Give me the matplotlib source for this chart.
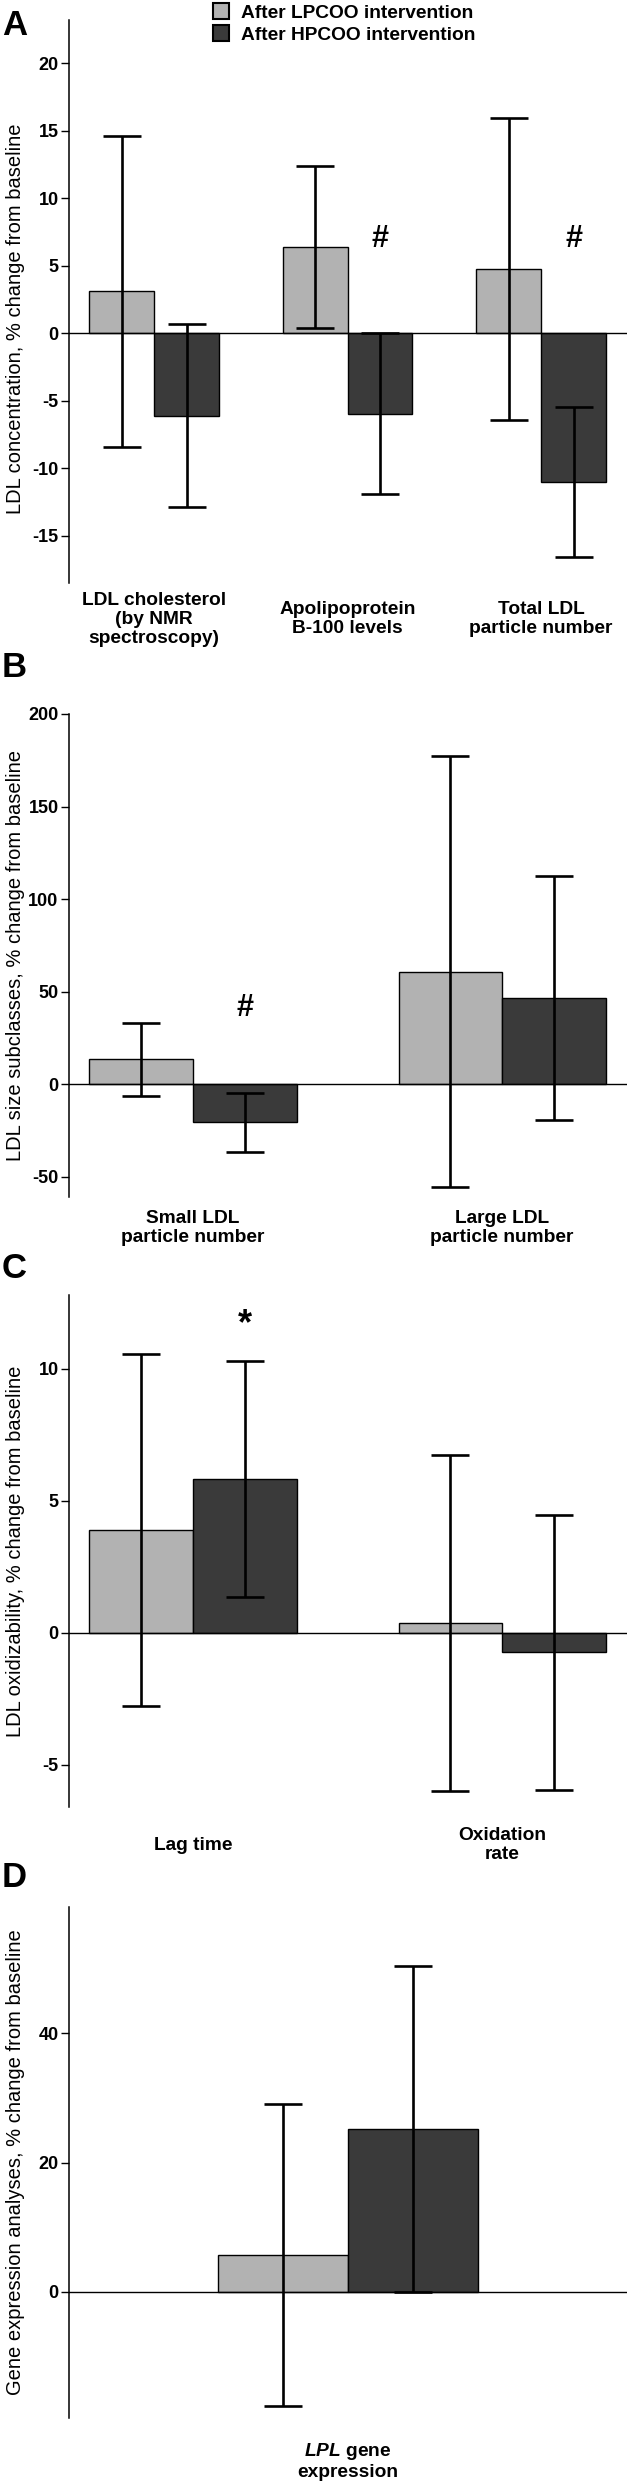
import numpy as np
import matplotlib
matplotlib.use("Agg")
import matplotlib.pyplot as plt
from matplotlib.patches import Patch

plt.rcParams['font.family'] = ['Liberation Sans', 'DejaVu Sans']
plt.rcParams['mathtext.fontset'] = 'custom'
plt.rcParams['mathtext.it'] = 'Liberation Sans:italic:bold'
plt.rcParams['mathtext.rm'] = 'Liberation Sans:bold'

# ---- data (mean % change, SD) ----
legend_labels = ['After LPCOO intervention', 'After HPCOO intervention']

cats_a = ['LDL cholesterol\n(by NMR\nspectroscopy)', 'Apolipoprotein\nB-100 levels',
          'Total LDL\nparticle number']
lp_a = [3.1, 6.4, 4.75]
lp_a_sd = [11.5, 6.0, 11.2]
hp_a = [-6.1, -5.95, -11.05]
hp_a_sd = [6.75, 5.95, 5.55]

cats_b = ['Small LDL\nparticle number', 'Large LDL\nparticle number']
lp_b = [13.5, 60.8]
lp_b_sd = [19.8, 116.4]
hp_b = [-20.5, 46.8]
hp_b_sd = [16.0, 65.9]

cats_c = ['Lag time', 'Oxidation\nrate']
lp_c = [3.9, 0.37]
lp_c_sd = [6.66, 6.37]
hp_c = [5.82, -0.74]
hp_c_sd = [4.48, 5.22]

cats_d = [r'$\mathit{LPL}$ gene' + '\nexpression']
lp_d = [5.67]
lp_d_sd = [23.4]
hp_d = [25.2]
hp_d_sd = [25.3]

# significance marks: (panel, x group, y value, text)
marks = [('A', 1, 6.4, '#'), ('A', 2, 6.4, '#'), ('B', 0, 36.9, '#'), ('C', 0, 11.3, '*')]

LIGHT = '#b2b2b2'
DARK = '#3a3a3a'
W = 0.335

W_PX, H_PX = 627, 2484
fig = plt.figure(figsize=(W_PX / 100, H_PX / 100), dpi=100)


def rect(top, bottom, left=69, right=627):
    return [left / W_PX, 1 - bottom / H_PX, (right - left) / W_PX, (bottom - top) / H_PX]


def panel(r, cats, lp, lp_sd, hp, hp_sd, ylim, xlim, yticks, ylabel, lab_off, lab_y=0.5):
    ax = fig.add_axes(r)
    x = np.arange(len(cats))
    ekw = dict(ecolor='black', elinewidth=1.9, capsize=13.5, capthick=1.9)
    ax.bar(x - W / 2, lp, W, yerr=lp_sd, color=LIGHT, edgecolor='black', linewidth=1.0,
           error_kw=ekw)
    ax.bar(x + W / 2, hp, W, yerr=hp_sd, color=DARK, edgecolor='black', linewidth=1.0,
           error_kw=ekw)
    ax.axhline(0, color='black', lw=1.0, zorder=3)
    ax.set_xlim(*xlim)
    ax.set_ylim(*ylim)
    for s in ['top', 'right', 'bottom']:
        ax.spines[s].set_visible(False)
    ax.spines['left'].set_linewidth(1.1)
    ax.set_xticks([])
    ax.set_yticks(yticks, labels=[str(t) for t in yticks], fontweight='bold', fontsize=13)
    ax.tick_params(axis='y', length=6, width=1.0, pad=1.5)
    ax.set_ylabel(ylabel, fontsize=14.5)
    ax.yaxis.set_label_coords(-0.079, lab_y)
    for xi, c in zip(x, cats):
        ax.annotate(c, xy=(xi, 0), xycoords=('data', 'axes fraction'),
                    xytext=(0, -lab_off), textcoords='offset points',
                    ha='center', va='center', fontweight='bold', fontsize=13.8,
                    multialignment='center', linespacing=1.15)
    return ax


ax_a = panel(rect(20, 583), cats_a, lp_a, lp_a_sd, hp_a, hp_a_sd, (-18.5, 23.2), (-0.44, 2.444),
             list(range(-15, 21, 5)), 'LDL concentration, % change from baseline', 26, 0.47)
ax_b = panel(rect(714, 1197), cats_b, lp_b, lp_b_sd, hp_b, hp_b_sd, (-60.8, 200), (-0.401, 1.404),
             [-50, 0, 50, 100, 150, 200], 'LDL size subclasses, % change from baseline', 22)
ax_c = panel(rect(1295, 1807), cats_c, lp_c, lp_c_sd, hp_c, hp_c_sd, (-6.6, 12.8), (-0.401, 1.404),
             [-5, 0, 5, 10], 'LDL oxidizability, % change from baseline', 27.4)
ax_d = panel(rect(1907, 2418), cats_d, lp_d, lp_d_sd, hp_d, hp_d_sd, (-19.6, 59.6), (-0.72, 0.72),
             [0, 20, 40], 'Gene expression analyses, % change from baseline', 31)

axes = {'A': ax_a, 'B': ax_b, 'C': ax_c, 'D': ax_d}
for p, g, y, t in marks:
    axes[p].text(g + W / 2, y, t, ha='center', va='baseline', fontweight='bold',
                 fontsize=22 if t == '#' else 26)

# panel letters
for letter, base in [('A', 35), ('B', 677), ('C', 1278), ('D', 1887)]:
    fig.text(2 / W_PX, 1 - base / H_PX, letter, fontsize=25, fontweight='bold', va='baseline')

handles = [Patch(facecolor=LIGHT, edgecolor='black', linewidth=1.5),
           Patch(facecolor=DARK, edgecolor='black', linewidth=1.5)]
fig.legend(handles, legend_labels, loc='center left', bbox_to_anchor=(213 / W_PX, 1 - 23.5 / H_PX),
           frameon=False, prop=dict(weight='bold', size=13.8), handlelength=0.85,
           handleheight=0.85, handletextpad=0.6, labelspacing=0.2, borderpad=0,
           borderaxespad=0)

fig.savefig('out.png', dpi=100)
